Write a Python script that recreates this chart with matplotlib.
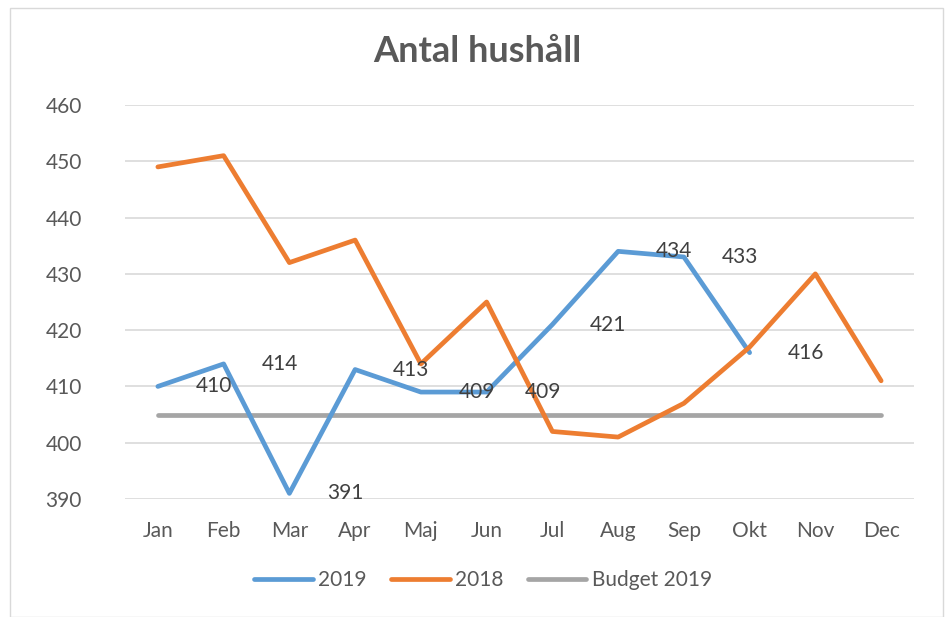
import matplotlib
matplotlib.use("Agg")
import matplotlib.pyplot as plt
from matplotlib.patches import Rectangle

months = ["Jan", "Feb", "Mar", "Apr", "Maj", "Jun", "Jul", "Aug", "Sep", "Okt", "Nov", "Dec"]
s2019 = [410, 414, 391, 413, 409, 409, 421, 434, 433, 416]
s2018 = [449, 451, 432, 436, 414, 425, 402, 401, 407, 417, 430, 411]
budget = [405] * 12
yticks = [390, 400, 410, 420, 430, 440, 450, 460]

plt.rcParams['font.family'] = ['Lato', 'DejaVu Sans']

fig = plt.figure(figsize=(9.49, 6.17), dpi=100)
ax = fig.add_axes([125/949, 1-499/617, (914-125)/949, (499-105)/617])

x_all = list(range(len(months)))
ax.plot(x_all[:len(s2019)], s2019, color="#5B9BD5", lw=3.4, label="2019", solid_capstyle="round", zorder=3)
ax.plot(x_all, s2018, color="#ED7D31", lw=3.4, label="2018", solid_capstyle="round", zorder=3)
ax.plot(x_all, budget, color="#A5A5A5", lw=3.4, label="Budget 2019", solid_capstyle="round", zorder=2)

for i, v in enumerate(s2019):
    ax.text(i + 1 - 0.15, v, str(v), ha="center", va="center", fontsize=15, color="#404040", zorder=4)

ax.set_xlim(-0.5, 11.5)
ax.set_ylim(390, 460)
ax.set_yticks(yticks)
ax.set_xticks(x_all)
ax.set_xticklabels(months)
ax.tick_params(axis="both", length=0, labelsize=15, colors="#595959")
ax.tick_params(axis="y", pad=31)
ax.tick_params(axis="x", pad=16)
for sp in ax.spines.values():
    sp.set_visible(False)
ax.yaxis.grid(True, color="#D9D9D9", lw=1.2)
ax.set_axisbelow(True)

fig.text(477/949, 1-52/617, "Antal hushåll", ha="center", va="center", fontsize=26, fontweight="bold", color="#595959")

leg = fig.legend(loc="center", bbox_to_anchor=(483/949, 1-580/617), ncol=3, frameon=False,
                 fontsize=15, handlelength=2.8, columnspacing=1.2, handletextpad=0.25, labelcolor="#595959")

fig.patches.append(Rectangle((10/949, 0), (943-10)/949, 1-8/617, transform=fig.transFigure,
                             fill=False, edgecolor="#D9D9D9", lw=1))

fig.savefig("out.png", dpi=100)
